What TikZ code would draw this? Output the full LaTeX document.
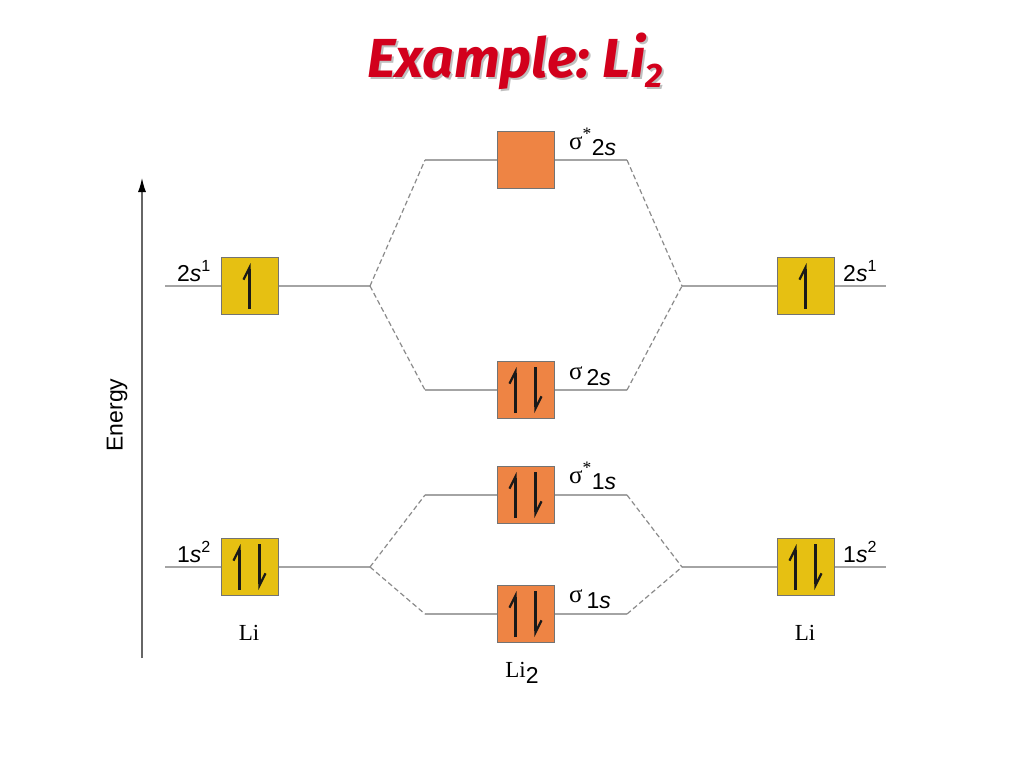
\documentclass[tikz,border=0pt]{standalone}
\usepackage{fontspec}
\setmainfont{Liberation Serif}
\setsansfont{Liberation Sans}
\newfontfamily\titlefont{Fira Sans}
\usetikzlibrary{arrows.meta}

\definecolor{lvlgray}{HTML}{A4A4A4}
\definecolor{aoyellow}{HTML}{E6C012}
\definecolor{moorange}{HTML}{EE8444}
\definecolor{titlered}{HTML}{D2001C}

\tikzset{
  level/.style={draw=lvlgray, line width=2.4pt},
  corr/.style={draw=lvlgray!85!black, line width=1.2pt, dash pattern=on 5pt off 3pt},
  orb/.style={draw=black!55, line width=0.8pt, minimum size=57pt, inner sep=0pt},
  ao/.style={orb, fill=aoyellow},
  mo/.style={orb, fill=moorange},
  spin/.style={draw=black!90, line width=2.2pt, -{Straight Barb[left, length=12pt, width=12pt]}},
  lbl/.style={font=\sffamily\fontsize{23}{23}\selectfont, inner sep=0pt},
  atm/.style={font=\rmfamily\fontsize{23}{23}\selectfont, inner sep=0pt},
  ttl/.style={font=\titlefont\bfseries\itshape\fontsize{55}{55}\selectfont}
}

\newcommand{\upspin}[2]{\draw[spin] ([xshift=#2, yshift=-23pt]#1.center) -- ([xshift=#2, yshift=23pt]#1.center);}
\newcommand{\downspin}[2]{\draw[spin] ([xshift=#2, yshift=23pt]#1.center) -- ([xshift=#2, yshift=-23pt]#1.center);}
\newcommand{\sig}[1]{{\rmfamily\raisebox{6pt}{\fontsize{25}{25}\selectfont σ#1}}}
\newcommand{\titletext}{Example:\ Li\raisebox{-10pt}{\fontsize{34}{34}\selectfont 2}}

\begin{document}
\begin{tikzpicture}[x=1pt, y=-1pt]
    \useasboundingbox[fill=white] (0,0) rectangle (1024,768);

    % title
    \node[ttl, text=black!25] at (517,63) {\titletext};
    \node[ttl, text=titlered] (T) at (515,61) {\titletext};

    % energy axis
    \coordinate (E0) at (142,658);
    \coordinate (E1) at (142,178);
    \draw[draw=black!60, line width=1.2pt, -{Latex[length=14pt, width=8pt, black]}] (E0) -- (E1);
    \node[lbl, rotate=90] (En) at (117,415) {Energy};

    % level ends
    \coordinate (A2l) at (165,286);  \coordinate (A2r) at (370,286);
    \coordinate (B2l) at (682,286);  \coordinate (B2r) at (886,286);
    \coordinate (A1l) at (165,567);  \coordinate (A1r) at (370,567);
    \coordinate (B1l) at (682,567);  \coordinate (B1r) at (886,567);
    \coordinate (S2sl) at (425,160); \coordinate (S2sr) at (627,160);
    \coordinate (S2l) at (425,390);  \coordinate (S2r) at (627,390);
    \coordinate (S1sl) at (425,495); \coordinate (S1sr) at (627,495);
    \coordinate (S1l) at (425,614);  \coordinate (S1r) at (627,614);

    \foreach \a/\b in {A2l/A2r, B2l/B2r, A1l/A1r, B1l/B1r, S2sl/S2sr, S2l/S2r, S1sl/S1sr, S1l/S1r}
        \draw[level] (\a) -- (\b);

    \foreach \a/\b in {A2r/S2sl, A2r/S2l, S2sr/B2l, S2r/B2l, A1r/S1sl, A1r/S1l, S1sr/B1l, S1r/B1l}
        \draw[corr] (\a) -- (\b);

    % boxes
    \node[ao] (a2) at (249.5,286) {};
    \node[ao] (b2) at (805.5,286) {};
    \node[ao] (a1) at (249.5,567) {};
    \node[ao] (b1) at (805.5,567) {};
    \node[mo] (m4) at (525.5,160) {};
    \node[mo] (m3) at (525.5,390) {};
    \node[mo] (m2) at (525.5,495) {};
    \node[mo] (m1) at (525.5,614) {};

    \upspin{a2}{0pt}
    \upspin{b2}{0pt}
    \foreach \n in {a1, b1, m3, m2, m1} {
        \upspin{\n}{-10pt}
        \downspin{\n}{10pt}
    }

    % labels
    \node[lbl, anchor=base west] (la2) at (177,281) {2\textit{s}\textsuperscript{1}};
    \node[lbl, anchor=base west] (lb2) at (843,281) {2\textit{s}\textsuperscript{1}};
    \node[lbl, anchor=base west] (la1) at (177,562) {1\textit{s}\textsuperscript{2}};
    \node[lbl, anchor=base west] (lb1) at (843,562) {1\textit{s}\textsuperscript{2}};
    \node[lbl, anchor=base west] (l4) at (569,155) {\sig{\textsuperscript{*}}2\textit{s}};
    \node[lbl, anchor=base west] (l3) at (569,385) {\sig{}\,2\textit{s}};
    \node[lbl, anchor=base west] (l2) at (569,489) {\sig{\textsuperscript{*}}1\textit{s}};
    \node[lbl, anchor=base west] (l1) at (569,608) {\sig{}\,1\textit{s}};

    \node[atm, anchor=base] (La) at (249,640) {Li};
    \node[atm, anchor=base] (Lb) at (805,640) {Li};
    \node[atm, anchor=base] (Lm) at (522,677) {Li\raisebox{-6pt}{\sffamily 2}};
\end{tikzpicture}
\end{document}
